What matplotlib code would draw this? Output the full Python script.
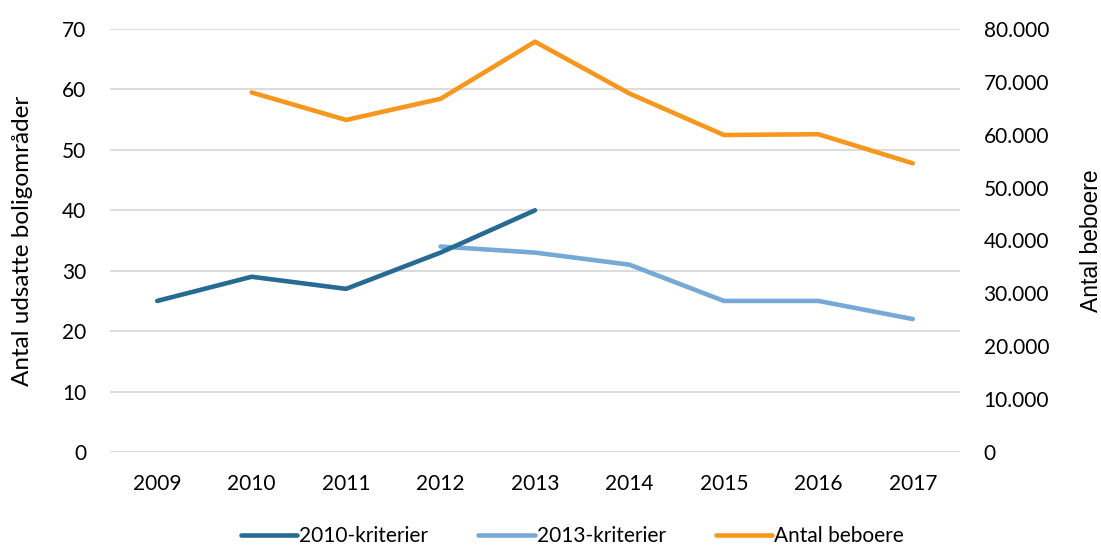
import matplotlib.pyplot as plt
import numpy as np

years = ["2009", "2010", "2011", "2012", "2013", "2014", "2015", "2016", "2017"]

# 2010-kriterier: 2009-2013
crit_2010 = [25, 29, 27, 33, 40, np.nan, np.nan, np.nan, np.nan]
# 2013-kriterier: 2012-2017
crit_2013 = [np.nan, np.nan, np.nan, 34, 33, 31, 25, 25, 22]
# Antal beboere (right axis): 2010-2017
residents = [np.nan, 68000, 62800, 66800, 77600, 67800, 59950, 60100, 54600]

left_ticks = [0, 10, 20, 30, 40, 50, 60, 70]
right_ticks = [0, 10000, 20000, 30000, 40000, 50000, 60000, 70000, 80000]

c_dark = "#276a93"
c_light = "#77a9d7"
c_orange = "#f7971e"
font = "Lato"
fs = 15

W, H = 1101, 545
fig = plt.figure(figsize=(W / 100, H / 100), dpi=100)
ax = fig.add_axes([110 / W, 1 - 452 / H, 850 / W, 423 / H])
ax2 = ax.twinx()

x = np.arange(len(years))
l1, = ax.plot(x, crit_2010, color=c_dark, lw=3.3, solid_capstyle="round", label="2010-kriterier", zorder=3)
l2, = ax.plot(x, crit_2013, color=c_light, lw=3.3, solid_capstyle="round", label="2013-kriterier", zorder=2)
l3, = ax2.plot(x, residents, color=c_orange, lw=3.3, solid_capstyle="round", label="Antal beboere")

ax.set_xlim(-0.5, len(years) - 0.5)
ax.set_ylim(0, 70)
ax2.set_ylim(0, 80000)
ax.set_yticks(left_ticks)
ax2.set_yticks(right_ticks)
ax2.set_yticklabels([f"{v:,}".replace(",", ".") for v in right_ticks])
ax.set_xticks(x)
ax.set_xticklabels(years)

ax.grid(axis="y", color="#d9d9d9", lw=1.3)
ax.set_axisbelow(True)
for a in (ax, ax2):
    for s in a.spines.values():
        s.set_visible(False)
    a.tick_params(length=0, labelsize=fs, colors="#000000")
    for t in a.get_xticklabels() + a.get_yticklabels():
        t.set_family(font)
ax.tick_params(axis="y", pad=17)
ax.tick_params(axis="x", pad=16)
ax2.tick_params(axis="y", pad=17)

# axis titles placed in figure pixels
mid_y = 1 - 240.5 / H
fig.text(23 / W, mid_y, "Antal udsatte boligområder", rotation=90, ha="center", va="center",
         fontsize=17.5, family=font)
fig.text(1091 / W, mid_y, "Antal beboere", rotation=90, ha="center", va="center",
         fontsize=16.5, family="Liberation Sans")

fig.legend(handles=[l1, l2, l3], loc="center", bbox_to_anchor=(0.52, 1 - 536 / H),
           ncol=3, frameon=False, prop={"family": font, "size": fs},
           handlelength=2.7, columnspacing=2.4, handletextpad=0.1)

fig.savefig("out.png", dpi=100)
